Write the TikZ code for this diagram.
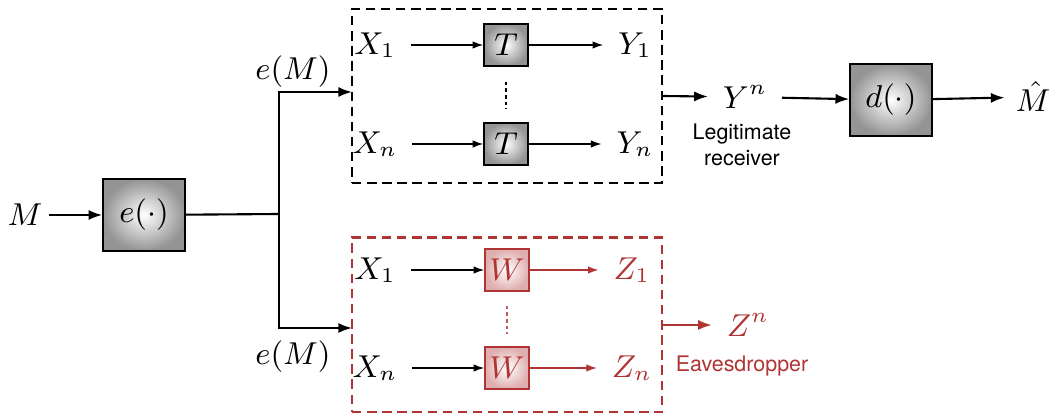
\documentclass[tikz,border=0pt]{standalone}
\usepackage{amsmath}
\usepackage{amssymb}
\usepackage{fontspec}
\setsansfont{TeX Gyre Heros}
\usepackage{xcolor}
\usepackage{tikz}
\usetikzlibrary{arrows.meta}
\definecolor{eveRed}{RGB}{176,52,52}

\begin{document}
\begin{tikzpicture}[x=0.1mm,y=-0.1mm,line width=0.6pt,>={Latex[length=3.9pt,width=2.9pt]},
    font=\fontsize{8.6}{10}\selectfont]
    \tikzstyle{coder}=[draw=black,line width=0.45pt,shading=radial,inner color=white,outer color=black!42,minimum width=8.2mm,minimum height=7.2mm,inner sep=0pt]
    \tikzstyle{channel}=[coder,minimum width=4.4mm,minimum height=4.2mm,font=\fontsize{9.5}{11}\selectfont]
    \tikzstyle{wiretap}=[channel,draw=eveRed,outer color=eveRed!40,text=eveRed]
    \tikzstyle{var}=[inner sep=1.4mm]
    \tikzstyle{frame}=[draw,line width=0.65pt,dash pattern=on 2.7pt off 1.6pt,minimum width=31mm,minimum height=17.4mm,inner sep=0pt]
    \tikzstyle{thin}=[->,line width=0.35pt,>={Latex[length=3pt,width=2.1pt]}]
    \tikzstyle{annot}=[font=\sffamily\fontsize{6.1}{7.4}\selectfont,align=center]

    \useasboundingbox (0,0) rectangle (1055,413);

    % Encoder and the split towards both channels
    \node[var,inner sep=0.6mm] (M) at (25,215) {$M$};
    \node[coder] (enc) at (144,215) {$e(\cdot)$};
    \coordinate (split) at (279,214);
    \coordinate (inT) at (352,92);
    \coordinate (inW) at (352,328);
    \draw[->] (M) -- (enc);
    \draw (enc) -- (split);
    \draw[->] (split) |- (inT);
    \draw[->] (split) |- (inW);
    \node (eT) at (293,72) {$e(M)$};
    \node (eW) at (293,357) {$e(M)$};

    % Main channel
    \node[frame] (chanT) at (507,96) {};
    \foreach \name / \y in {1/45,n/144}
    {
        \node[var] (XT-\name) at (375,\y) {$X_\name$};
        \node[channel] (T-\name) at (506,\y) {$T$};
        \node[var] (Y-\name) at (635,\y) {$Y_\name$};
        \draw[thin] (XT-\name.east |- T-\name) -- (T-\name);
        \draw[thin] (T-\name) -- (Y-\name.west |- T-\name);
    }
    \draw[line width=0.3pt,dash pattern=on 1pt off 0.9pt,shorten <=1.5mm,shorten >=1.3mm] (T-1.south) -- (T-n.north);

    % Wiretap channel
    \node[frame,draw=eveRed,minimum height=17.5mm] (chanW) at (507,325) {};
    \foreach \name / \y in {1/270,n/368}
    {
        \node[var] (XW-\name) at (375,\y) {$X_\name$};
        \node[wiretap] (W-\name) at (507,\y) {$W$};
        \node[var,text=eveRed] (Z-\name) at (632,\y) {$Z_\name$};
        \draw[thin] (XW-\name.east |- W-\name) -- (W-\name);
        \draw[thin,draw=eveRed,fill=eveRed] (W-\name) -- (Z-\name.west |- W-\name);
    }
    \draw[line width=0.3pt,eveRed!80,dash pattern=on 1pt off 0.9pt,shorten <=1.4mm,shorten >=1.2mm] (W-1.south) -- (W-n.north);

    % Legitimate receiver
    \node[var] (Yn) at (745,97) {$Y^n$};
    \node[annot] (legit) at (742,145) {Legitimate\\receiver};
    \node[coder] (dec) at (891,100) {$d(\cdot)$};
    \node[var,inner sep=1mm] (Mhat) at (1033,97) {$\hat{M}$};
    \draw[->] (chanT.east) -- (Yn);
    \draw[->] (Yn) -- (dec);
    \draw[->] (dec) -- (Mhat);

    % Eavesdropper
    \node[var,text=eveRed] (Zn) at (748,325) {$Z^n$};
    \node[annot,text=eveRed] (eve) at (742,366) {Eavesdropper};
    \draw[->,eveRed] (chanW.east) -- (Zn);

\end{tikzpicture}
\end{document}
